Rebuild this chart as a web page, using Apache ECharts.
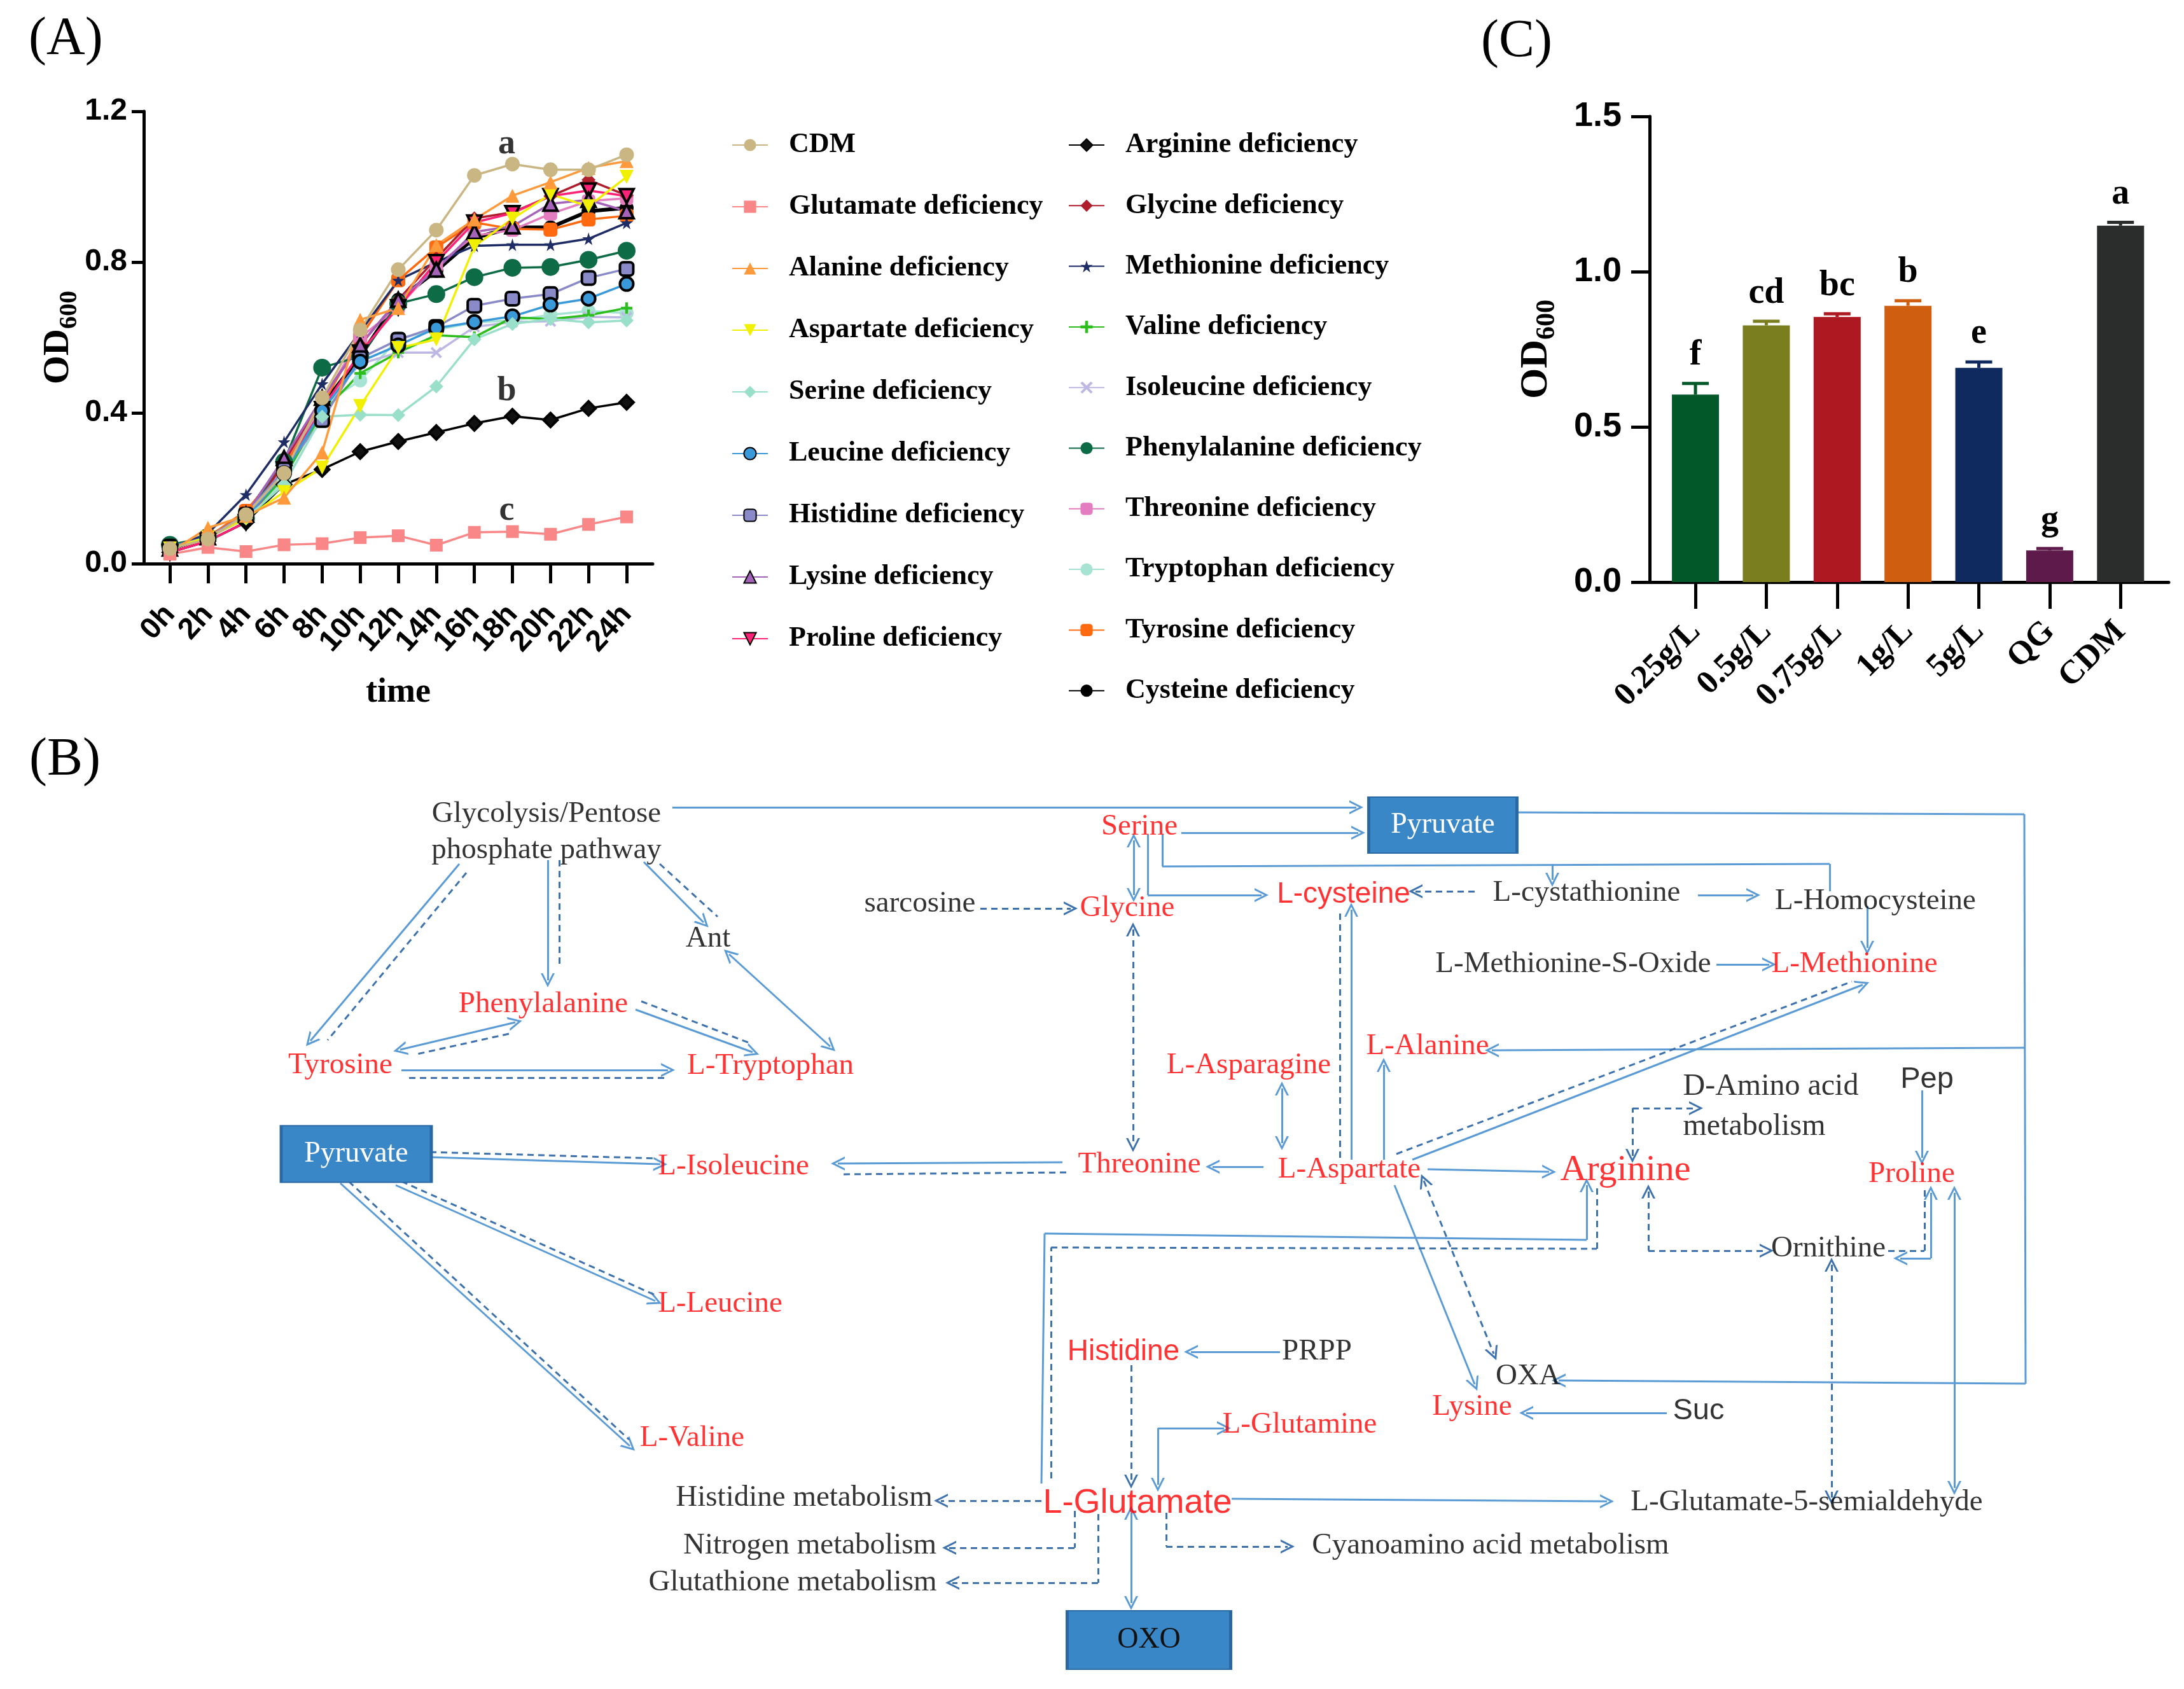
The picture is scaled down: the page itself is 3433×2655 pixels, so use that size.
<!DOCTYPE html>
<html><head><meta charset="utf-8">
<script src="https://cdn.jsdelivr.net/npm/echarts@6/dist/echarts.min.js"></script>
<style>html,body{margin:0;padding:0;background:#fff}#c{width:3433px;height:2655px}</style>
</head><body><div id="c"></div>
<script>
// ---------------- Panel A data ----------------
const timeLabels = ['0h','2h','4h','6h','8h','10h','12h','14h','16h','18h','20h','22h','24h'];
const odCDM          = [0.040,0.065,0.130,0.240,0.440,0.620,0.780,0.885,1.030,1.060,1.045,1.045,1.085];
const odGlutamate    = [0.025,0.043,0.032,0.050,0.053,0.069,0.074,0.049,0.083,0.085,0.078,0.104,0.124];
const odAlanine      = [0.030,0.095,0.127,0.175,0.295,0.647,0.678,0.845,0.913,0.976,1.012,1.050,1.068];
const odAspartate    = [0.040,0.070,0.120,0.190,0.255,0.418,0.572,0.595,0.842,0.915,0.980,0.948,1.026];
const odSerine       = [0.040,0.070,0.120,0.210,0.390,0.395,0.394,0.470,0.595,0.636,0.649,0.640,0.645];
const odLeucine      = [0.040,0.070,0.120,0.240,0.406,0.536,0.579,0.625,0.641,0.656,0.687,0.703,0.742];
const odHistidine    = [0.045,0.070,0.130,0.250,0.381,0.545,0.594,0.628,0.684,0.703,0.715,0.758,0.782];
const odLysine       = [0.040,0.070,0.130,0.280,0.440,0.580,0.700,0.780,0.880,0.895,0.955,0.965,0.935];
const odProline      = [0.030,0.060,0.110,0.250,0.410,0.560,0.680,0.800,0.905,0.930,0.975,0.990,0.975];
const odArginine     = [0.030,0.060,0.110,0.210,0.250,0.297,0.324,0.348,0.372,0.391,0.381,0.412,0.428];
const odGlycine      = [0.030,0.060,0.110,0.270,0.440,0.580,0.700,0.810,0.916,0.932,0.975,1.018,0.977];
const odMethionine   = [0.040,0.080,0.183,0.323,0.477,0.615,0.752,0.800,0.843,0.846,0.846,0.862,0.904];
const odValine       = [0.040,0.070,0.120,0.230,0.400,0.505,0.560,0.606,0.601,0.653,0.649,0.659,0.678];
const odIsoleucine   = [0.040,0.070,0.120,0.240,0.420,0.530,0.560,0.560,0.628,0.641,0.643,0.655,0.653];
const odPhenylalanine= [0.050,0.070,0.120,0.270,0.520,0.550,0.690,0.715,0.760,0.785,0.787,0.806,0.830];
const odThreonine    = [0.040,0.070,0.120,0.270,0.430,0.600,0.680,0.790,0.870,0.885,0.928,0.962,0.969];
const odTryptophan   = [0.040,0.070,0.120,0.220,0.420,0.486,0.597,0.620,0.640,0.645,0.660,0.670,0.665];
const odTyrosine     = [0.040,0.070,0.140,0.260,0.420,0.600,0.752,0.839,0.905,0.888,0.886,0.913,0.923];
const odCysteine     = [0.040,0.070,0.130,0.270,0.420,0.550,0.700,0.777,0.864,0.892,0.892,0.935,0.944];

const growthNames = ['CDM','Glutamate deficiency','Alanine deficiency','Aspartate deficiency','Serine deficiency',
  'Leucine deficiency','Histidine deficiency','Lysine deficiency','Proline deficiency',
  'Arginine deficiency','Glycine deficiency','Methionine deficiency','Valine deficiency','Isoleucine deficiency',
  'Phenylalanine deficiency','Threonine deficiency','Tryptophan deficiency','Tyrosine deficiency','Cysteine deficiency'];
const growthValues = [odCDM,odGlutamate,odAlanine,odAspartate,odSerine,odLeucine,odHistidine,odLysine,odProline,
  odArginine,odGlycine,odMethionine,odValine,odIsoleucine,odPhenylalanine,odThreonine,odTryptophan,odTyrosine,odCysteine];

const sigLetters = ['a','b','c'];
const sigX = [8.85, 8.85, 8.85];
const sigY = [1.112, 0.457, 0.140];

// ---------------- Panel C data ----------------
const doseLabels  = ['0.25g/L','0.5g/L','0.75g/L','1g/L','5g/L','QG','CDM'];
const doseMeans   = [0.604,0.827,0.854,0.890,0.690,0.102,1.148];
const doseErrors  = [0.036,0.013,0.010,0.016,0.019,0.006,0.011];
const doseLetters = ['f','cd','bc','b','e','g','a'];

// ---------------- Panel B (pathway) data ----------------
const nodeLabels = ['Glycolysis/Pentose\nphosphate pathway','Ant','Phenylalanine','Tyrosine','L-Tryptophan','L-Isoleucine',
  'L-Leucine','L-Valine','Serine','sarcosine','Glycine','L-cysteine','L-cystathionine','L-Homocysteine',
  'L-Methionine-S-Oxide','L-Methionine','L-Alanine','L-Asparagine','Pep','Threonine','L-Aspartate','Arginine',
  'Proline','Ornithine','Histidine','PRPP','OXA','Lysine','Suc','L-Glutamine','L-Glutamate',
  'L-Glutamate-5-semialdehyde','Histidine metabolism','Nitrogen metabolism','Glutathione metabolism',
  'Cyanoamino acid metabolism'];
const nodeX = [859,1113,854,535,1211,1153,1132,1088,1791,1446,1772,2112,2494,2948,2473,2915,2244,1963,3029,1791,2121,2555,
  3005,2874,1766,2070,2402,2314,2670,2043,1788,2840,1264,1273,1246,2343];
const nodeY = [1308,1476,1579,1675,1676,1834,2050,2261,1300,1421,1428,1406,1404,1417,1516,1516,1645,1675,1697,1831,1839,1840,
  1846,1963,2125,2125,2164,2212,2218,2240,2363,2362,2355,2430,2488,2430];
const nodeKinds = ['bs','bs','rs','rs','rs','rs','rs','rs','rs','bs','rs','rn','bs','bs','bs','rs','rs','rs','bn','rs','rs','rL',
  'rs','bs','rn','bs','bs','rs','bn','rs','rG','bs','bs','bs','bs','bs'];
const noteLabel = 'D-Amino acid\nmetabolism';
const noteX = 2645, noteY = 1740;

const boxLabels = ['Pyruvate','Pyruvate','OXO'];
const boxX = [560,2268,1806];
const boxY = [1814,1297,2578];
const boxW = [236,233,257];
const boxH = [89,88,92];
const boxText = ['#fff','#fff','#111'];

const edgePaths = [
  [[1057,1269],[2132,1269]],
  [[722,1358],[488,1636]],
  [[733,1372],[515,1635]],
  [[861,1352],[861,1541]],
  [[879,1352],[879,1521]],
  [[1012,1355],[1106,1450]],
  [[1037,1358],[1128,1441]],
  [[1146,1500],[1305,1645]],
  [[999,1587],[1183,1654]],
  [[1008,1574],[1182,1641]],
  [[810,1607],[629,1650]],
  [[800,1625],[651,1658]],
  [[631,1682],[1050,1682]],
  [[643,1694],[1049,1694]],
  [[676,1819],[1038,1830]],
  [[676,1811],[1033,1821]],
  [[622,1863],[1030,2045]],
  [[631,1857],[1028,2035]],
  [[535,1860],[990,2273]],
  [[548,1857],[989,2263]],
  [[1857,1309],[2135,1309]],
  [[1782,1321],[1782,1407]],
  [[1804,1312],[1804,1407],[1983,1407]],
  [[1827,1312],[1827,1362],[2876,1358],[2876,1401]],
  [[2440,1358],[2440,1383]],
  [[1541,1428],[1683,1428]],
  [[1781,1461],[1781,1800]],
  [[2318,1401],[2225,1401]],
  [[2669,1407],[2756,1407]],
  [[2935,1424],[2935,1490]],
  [[2698,1516],[2781,1516]],
  [[2220,1823],[2928,1548]],
  [[2195,1814],[2911,1543]],
  [[2175,1823],[2175,1674]],
  [[2385,1277],[3182,1280],[3184,2175],[2450,2170]],
  [[3182,1647],[2345,1651]],
  [[2244,1838],[2435,1842]],
  [[2566,1817],[2566,1742],[2666,1742]],
  [[3021,1714],[3021,1820]],
  [[2015,1711],[2015,1797]],
  [[1986,1834],[1906,1834]],
  [[1670,1827],[1317,1829]],
  [[1676,1843],[1320,1846]],
  [[2124,1823],[2124,1430]],
  [[2106,1820],[2106,1430]],
  [[1637,2332],[1642,1939],[2494,1949],[2494,1863]],
  [[1652,2324],[1652,1961],[2510,1963],[2510,1866]],
  [[1778,2146],[1778,2329]],
  [[1820,2334],[1820,2245],[1924,2245]],
  [[1637,2359],[1479,2359]],
  [[1689,2375],[1689,2433],[1492,2433]],
  [[1726,2380],[1726,2488],[1497,2488]],
  [[1778,2378],[1778,2520]],
  [[1833,2378],[1833,2431],[2024,2431]],
  [[1936,2356],[2526,2360]],
  [[2192,1863],[2318,2176]],
  [[2238,1856],[2348,2128]],
  [[2620,2221],[2399,2221]],
  [[2879,1988],[2879,2354]],
  [[3072,1875],[3072,2339]],
  [[2591,1873],[2591,1966],[2777,1966]],
  [[3035,1875],[3035,1978],[2987,1978]],
  [[2968,1966],[3025,1966],[3025,1866]],
  [[2012,2125],[1872,2125]]
];
const edgeDashed = [0,0,1,0,1,0,1,0,0,1,0,1,0,1,0,1,0,1,0,1,0,0,0,0,0,1,1,1,0,0,0,0,1,0,0,0,0,1,0,0,0,0,1,0,1,0,1,1,0,1,1,1,0,1,0,0,1,0,1,0,1,0,1,0];
const edgeHeads  = ['end','end','none','end','none','end','none','both','end','none','both','none','end','none','end','none',
  'end','none','end','none','end','both','end','none','end','end','both','end','end','end','end','end','none','end','end',
  'end','end','both','end','both','end','end','none','end','none','end','none','end','both','end','end','end','both','end',
  'end','end','both','end','both','both','both','both','none','end'];

// ---------------- styles ----------------
const W = 3433, H = 2655;
const SERIF = "'Liberation Serif','Times New Roman',serif";
const SANS = "'Liberation Sans',Arial,sans-serif";
const NARROW = "'Liberation Sans Narrow','Liberation Sans',Arial,sans-serif";
const starPath = 'path://M50,0 L61,35 L98,35 L68,57 L79,91 L50,70 L21,91 L32,57 L2,35 L39,35 Z';
const plusPath = 'path://M38,0 H62 V38 H100 V62 H62 V100 H38 V62 H0 V38 H38 Z';
const xPath = 'path://M15,0 L50,35 L85,0 L100,15 L65,50 L100,85 L85,100 L50,65 L15,100 L0,85 L35,50 L0,15 Z';
const chevron = 'path://M0,10 L5,0 L10,10 L8.5,10 L5,3 L1.5,10 Z';
const growthStyles = [
  {line:'#C9B682', fill:'#C9B682', symbol:'circle', size:23},
  {line:'#F98787', fill:'#F98787', symbol:'rect', size:20},
  {line:'#FF9A3C', fill:'#FF9A3C', symbol:'triangle', size:22},
  {line:'#F0F000', fill:'#F0F000', symbol:'triangle', size:22, rot:180},
  {line:'#9ADFC9', fill:'#9ADFC9', symbol:'diamond', size:22},
  {line:'#3A9AD9', fill:'#3A9AD9', symbol:'circle', size:21, border:'#000'},
  {line:'#8A8AC8', fill:'#8A8AC8', symbol:'roundRect', size:21, border:'#000'},
  {line:'#A463B8', fill:'#A463B8', symbol:'triangle', size:22, border:'#000'},
  {line:'#FF2277', fill:'#FF2277', symbol:'triangle', size:22, rot:180, border:'#000'},
  {line:'#000000', fill:'#111111', symbol:'diamond', size:22, border:'#000'},
  {line:'#B01E2E', fill:'#B01E2E', symbol:'diamond', size:22},
  {line:'#1E2D66', fill:'#1E2D66', symbol:starPath, size:20},
  {line:'#2DBE1E', fill:'#2DBE1E', symbol:plusPath, size:18},
  {line:'#BDB8E3', fill:'#BDB8E3', symbol:xPath, size:18},
  {line:'#0D6B45', fill:'#0D6B45', symbol:'circle', size:28},
  {line:'#E37DBF', fill:'#E37DBF', symbol:'roundRect', size:21},
  {line:'#A7E3D3', fill:'#A7E3D3', symbol:'circle', size:22},
  {line:'#FF6A10', fill:'#FF6A10', symbol:'roundRect', size:22},
  {line:'#000000', fill:'#000000', symbol:'circle', size:22, width:6}
];
const doseColors = ['#03582A','#7B7E1F','#AE1820','#D05E11','#0F2A5E','#5E1A4A','#2A2D2C'];
const nodeStyle = {
  rs:{color:'#FF0000', fontFamily:SERIF, fontSize:47},
  bs:{color:'#000000', fontFamily:SERIF, fontSize:47},
  rn:{color:'#FF0000', fontFamily:SANS, fontSize:46},
  bn:{color:'#000000', fontFamily:SANS, fontSize:47},
  rL:{color:'#FF0000', fontFamily:SERIF, fontSize:58},
  rG:{color:'#FF0000', fontFamily:SANS, fontSize:54}
};

// ---------------- layout of panels (pixels) ----------------
const aLeft = 226, aTop = 175, aW = 800, aH = 711, aMin = -0.686, aMax = 12.686;
const aUnit = aW / (aMax - aMin);
const cLeft = 2593, cTop = 183, cW = 816, cH = 732, cMin = -0.647, cMax = 6.68;
const cUnit = cW / (cMax - cMin);

// ---------------- build option ----------------
const blackAxis = {show:true, onZero:false, lineStyle:{color:'#000', width:5}};
const odName = (fs, fsub) => ({
  rich:{
    a:{fontFamily:SERIF, fontWeight:'bold', fontSize:fs, color:'#000'},
    b:{fontFamily:SERIF, fontWeight:'bold', fontSize:fsub, color:'#000', padding:[34,0,0,0]}
  }
});

const series = [];
for (let k = growthNames.length - 1; k >= 0; k--) {
  const st = growthStyles[k];
  series.push({
    type:'line', name:growthNames[k], xAxisIndex:0, yAxisIndex:0,
    data: growthValues[k].map((v,i)=>[i,v]),
    symbol: st.symbol, symbolSize: st.size, symbolRotate: st.rot || 0,
    lineStyle:{color:st.line, width:st.width || 3.5},
    itemStyle:{color:st.fill, borderColor:st.border || st.fill, borderWidth: st.border ? 4 : 0},
    emphasis:{disabled:true}, z: 2
  });
}
series.push({
  type:'scatter', xAxisIndex:0, yAxisIndex:0, symbolSize:1, itemStyle:{color:'rgba(0,0,0,0)'},
  data: sigLetters.map((s,i)=>({name:s, value:[sigX[i], sigY[i]]})),
  label:{show:true, position:'inside', formatter:'{b}', fontFamily:SERIF, fontWeight:'bold', fontSize:54, color:'#000'},
  z:5, silent:true
});
series.push({
  type:'bar', xAxisIndex:1, yAxisIndex:1, barWidth:74,
  data: doseMeans.map((v,i)=>({value:[i,v], itemStyle:{color:doseColors[i]}})),
  emphasis:{disabled:true}
});
series.push({
  type:'custom', xAxisIndex:1, yAxisIndex:1,
  data: doseMeans.map((v,i)=>[i, v, doseErrors[i]]),
  renderItem: (params, api) => {
    const i = api.value(0), m = api.value(1), e = api.value(2);
    const base = api.coord([i, m]), top = api.coord([i, m + e]);
    const c = doseColors[params.dataIndex];
    return {type:'group', children:[
      {type:'line', shape:{x1:base[0], y1:base[1], x2:top[0], y2:top[1]}, style:{stroke:c, lineWidth:5}},
      {type:'line', shape:{x1:top[0]-21, y1:top[1], x2:top[0]+21, y2:top[1]}, style:{stroke:c, lineWidth:5}},
      {type:'text', x:top[0], y:top[1]-16, style:{text:doseLetters[params.dataIndex], fontFamily:SERIF,
        fontWeight:'bold', fontSize:56, fill:'#000', align:'center', verticalAlign:'bottom'}}
    ]};
  },
  z:3, silent:true
});
function segItems(dashed) {
  const items = [];
  edgePaths.forEach((p, k) => {
    if (!!edgeDashed[k] !== dashed) return;
    const head = edgeHeads[k];
    for (let j = 0; j < p.length - 1; j++) {
      const s0 = (j === 0 && (head === 'both' || head === 'start')) ? chevron : 'none';
      const s1 = (j === p.length - 2 && (head === 'both' || head === 'end')) ? chevron : 'none';
      items.push({coords:[p[j], p[j+1]], symbol:[s0, s1]});
    }
  });
  return items;
}
series.push({
  type:'lines', coordinateSystem:'cartesian2d', xAxisIndex:2, yAxisIndex:2, symbolSize:22,
  lineStyle:{color:'#5B9BD5', width:3, opacity:1, curveness:0}, data:segItems(false), silent:true, z:3
});
series.push({
  type:'lines', coordinateSystem:'cartesian2d', xAxisIndex:2, yAxisIndex:2, symbolSize:22,
  lineStyle:{color:'#3D72AD', width:3, type:[10,7], opacity:1, curveness:0}, data:segItems(true), silent:true, z:3
});
series.push({
  type:'scatter', xAxisIndex:2, yAxisIndex:2, symbol:'rect',
  data: boxLabels.map((b,i)=>({name:b, value:[boxX[i], boxY[i]], symbolSize:[boxW[i], boxH[i]],
    label:{color:boxText[i]}})),
  itemStyle:{color:'#3A87C8', borderColor:'#2A68A3', borderWidth:3, opacity:1},
  label:{show:true, position:'inside', formatter:'{b}', fontFamily:SERIF, fontSize:46},
  silent:true, z:4
});
series.push({
  type:'scatter', xAxisIndex:2, yAxisIndex:2, symbolSize:1, itemStyle:{color:'rgba(0,0,0,0)'},
  data: nodeLabels.map((n,i)=>({name:n, value:[nodeX[i], nodeY[i]],
    label:Object.assign({lineHeight:57}, nodeStyle[nodeKinds[i]])}))
    .concat([{name:noteLabel, value:[noteX, noteY], label:{position:'right', distance:0, align:'left',
      color:'#000', fontFamily:SERIF, fontSize:48, lineHeight:63}}]),
  label:{show:true, position:'inside', formatter:'{b}'},
  silent:true, z:6
});

const legendText = {fontFamily:SERIF, fontWeight:'bold', fontSize:44, color:'#000', lineHeight:50, padding:[0,0,0,28]};
const hiddenY = (g) => ({gridIndex:g, type:'value', min:0, max:1, show:false});
const option = {
  backgroundColor:'#fff',
  animation:false,
  title:[
    {text:'(A)', left:40, top:16, textStyle:{fontFamily:SERIF, fontWeight:'normal', fontSize:84, color:'#000'}},
    {text:'(B)', left:41, top:1149, textStyle:{fontFamily:SERIF, fontWeight:'normal', fontSize:84, color:'#000'}},
    {text:'(C)', left:2323, top:20, textStyle:{fontFamily:SERIF, fontWeight:'normal', fontSize:84, color:'#000'}}
  ],
  legend:[
    {data:growthNames.slice(0,9), orient:'vertical', left:1145, top:198, itemWidth:56, itemHeight:24, itemGap:47,
      textStyle:legendText, selectedMode:false},
    {data:growthNames.slice(9), orient:'vertical', left:1674, top:198, itemWidth:56, itemHeight:24, itemGap:45.3,
      textStyle:legendText, selectedMode:false}
  ],
  grid:[
    {left:aLeft, top:aTop, width:aW, height:aH},
    {left:cLeft, top:cTop, width:cW, height:cH},
    {left:0, top:0, width:W, height:H},
    {left:aLeft + (-0.5 - aMin) * aUnit, top:aTop, width:timeLabels.length * aUnit, height:aH},
    {left:cLeft + (-0.5 - cMin) * cUnit, top:cTop, width:doseLabels.length * cUnit, height:cH}
  ],
  xAxis:[
    {gridIndex:0, type:'value', min:aMin, max:aMax,
      axisLine:{show:true, onZero:false, lineStyle:{color:'#000', width:5}},
      axisTick:{show:false}, axisLabel:{show:false}, splitLine:{show:false},
      name:'time', nameLocation:'middle', nameGap:176,
      nameTextStyle:{fontFamily:SERIF, fontWeight:'bold', fontSize:54, color:'#000'}},
    {gridIndex:1, type:'value', min:cMin, max:cMax,
      axisLine:{show:true, onZero:false, lineStyle:{color:'#000', width:5}},
      axisTick:{show:false}, axisLabel:{show:false}, splitLine:{show:false}},
    {gridIndex:2, type:'value', min:0, max:W, show:false},
    {gridIndex:3, type:'category', data:timeLabels, boundaryGap:true, position:'bottom',
      axisLine:{show:true, onZero:false, lineStyle:{color:'#000', width:5}},
      axisTick:{show:true, alignWithLabel:true, interval:0, length:31, lineStyle:{color:'#000', width:5}},
      axisLabel:{interval:0, rotate:48, margin:72, fontFamily:SANS, fontWeight:'bold', fontSize:47, color:'#000'},
      splitLine:{show:false}},
    {gridIndex:4, type:'category', data:doseLabels, boundaryGap:true, position:'bottom',
      axisLine:{show:true, onZero:false, lineStyle:{color:'#000', width:5}},
      axisTick:{show:true, alignWithLabel:true, interval:0, length:42, lineStyle:{color:'#000', width:5}},
      axisLabel:{interval:0, rotate:45, margin:70, fontFamily:SERIF, fontWeight:'bold', fontSize:52, color:'#000'},
      splitLine:{show:false}}
  ],
  yAxis:[
    {gridIndex:0, type:'value', min:0, max:1.2, interval:0.4,
      axisLine:blackAxis,
      axisTick:{show:true, length:19, lineStyle:{color:'#000', width:5}},
      axisLabel:{formatter:(v)=>v.toFixed(1), margin:26, fontFamily:NARROW, fontWeight:'bold', fontSize:48, color:'#000'},
      splitLine:{show:false},
      name:'{a|OD}{b|600}', nameLocation:'middle', nameRotate:90, nameGap:90, nameTextStyle:odName(58,40)},
    {gridIndex:1, type:'value', min:0, max:1.5, interval:0.5,
      axisLine:blackAxis,
      axisTick:{show:true, length:29, lineStyle:{color:'#000', width:5}},
      axisLabel:{formatter:(v)=>v.toFixed(1), margin:44, fontFamily:SANS, fontWeight:'bold', fontSize:54, color:'#000'},
      splitLine:{show:false},
      name:'{a|OD}{b|600}', nameLocation:'middle', nameRotate:90, nameGap:140, nameTextStyle:odName(62,42)},
    {gridIndex:2, type:'value', min:0, max:H, inverse:true, show:false},
    hiddenY(3),
    hiddenY(4)
  ],
  series: series
};
const chart = echarts.init(document.getElementById('c'), null, {renderer:'canvas'});
chart.setOption(option);
</script>
</body></html>
